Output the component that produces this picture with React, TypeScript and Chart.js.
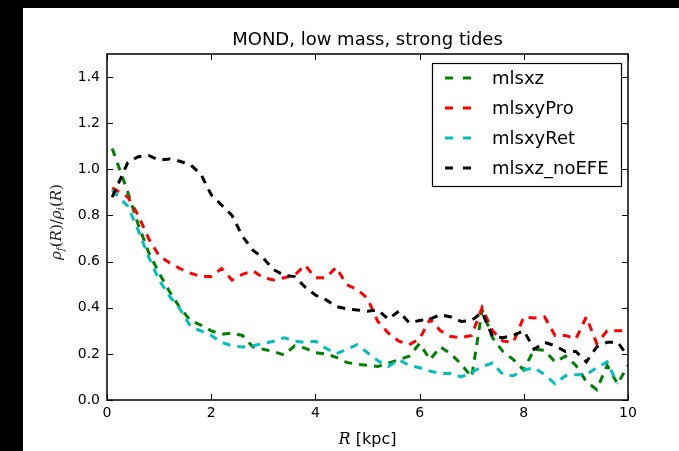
import React, { useEffect, useRef } from "react";
import { Chart, registerables } from "chart.js";

Chart.register(...registerables);

const TITLE = "MOND, low mass, strong tides";
const SERIES_NAMES = ["mlsxz", "mlsxyPro", "mlsxyRet", "mlsxz_noEFE"];
const SERIES_COLORS = ["#008000", "#ff0000", "#00bfbf", "#000000"];
const X_TICKS = [0, 2, 4, 6, 8, 10];
const Y_TICKS = [0, 0.2, 0.4, 0.6, 0.8, 1.0, 1.2, 1.4];

const R = [
  0.1, 0.4, 0.6, 0.8, 1.0, 1.2, 1.4, 1.6, 1.8, 2.0,
  2.2, 2.4, 2.6, 2.8, 3.0, 3.2, 3.4, 3.6, 3.8, 4.0,
  4.2, 4.4, 4.6, 4.8, 5.0, 5.2, 5.4, 5.6, 5.8, 6.0,
  6.2, 6.4, 6.6, 6.8, 7.0, 7.2, 7.4, 7.6, 7.8, 8.0,
  8.2, 8.4, 8.6, 8.8, 9.0, 9.2, 9.4, 9.6, 9.8, 10.0,
];

const mlsxz = [
  1.09, 0.9, 0.76, 0.64, 0.55, 0.47, 0.4, 0.345, 0.325, 0.3,
  0.285, 0.29, 0.28, 0.23, 0.22, 0.21, 0.195, 0.235, 0.225, 0.205,
  0.2, 0.185, 0.163, 0.155, 0.15, 0.145, 0.16, 0.175, 0.19, 0.245,
  0.175, 0.23, 0.2, 0.155, 0.1, 0.39, 0.27, 0.21, 0.175, 0.13,
  0.22, 0.215, 0.165, 0.19, 0.15, 0.08, 0.045, 0.15, 0.07, 0.15,
];

const mlsxyPro = [
  0.92, 0.88, 0.8, 0.7, 0.625, 0.595, 0.57, 0.55, 0.535, 0.535,
  0.57, 0.52, 0.545, 0.56, 0.53, 0.52, 0.53, 0.54, 0.585, 0.53,
  0.53, 0.575, 0.5, 0.48, 0.44, 0.34, 0.29, 0.255, 0.24, 0.265,
  0.35, 0.3, 0.275, 0.27, 0.28, 0.4, 0.3, 0.255, 0.25, 0.36,
  0.355, 0.36, 0.28, 0.28, 0.265, 0.36, 0.245, 0.3, 0.3, 0.3,
];

const mlsxyRet = [
  0.91, 0.84, 0.735, 0.62, 0.52, 0.45, 0.395, 0.32, 0.3, 0.28,
  0.25, 0.235, 0.23, 0.235, 0.245, 0.255, 0.27, 0.255, 0.25, 0.255,
  0.225, 0.2, 0.22, 0.24, 0.205, 0.17, 0.145, 0.175, 0.15, 0.14,
  0.125, 0.115, 0.115, 0.1, 0.12, 0.145, 0.16, 0.11, 0.105, 0.13,
  0.14, 0.11, 0.07, 0.105, 0.11, 0.11, 0.14, 0.165, 0.07, null,
];

const mlsxzNoEFE = [
  0.88, 1.03, 1.055, 1.06, 1.04, 1.045, 1.035, 1.02, 0.98, 0.89,
  0.845, 0.8, 0.71, 0.65, 0.615, 0.565, 0.54, 0.535, 0.49, 0.455,
  0.435, 0.405, 0.395, 0.39, 0.385, 0.39, 0.35, 0.385, 0.335, 0.345,
  0.35, 0.37, 0.36, 0.34, 0.345, 0.38, 0.275, 0.27, 0.28, 0.3,
  0.22, 0.25, 0.235, 0.21, 0.21, 0.165, 0.23, 0.25, 0.25, 0.19,
];

const SERIES = [mlsxz, mlsxyPro, mlsxyRet, mlsxzNoEFE];

const DASH = [8, 7];

const decor = {
  id: "decor",
  afterDatasetsDraw(chart: any) {
    const { ctx, chartArea: a, scales } = chart;
    ctx.save();
    // frame
    ctx.strokeStyle = "#000";
    ctx.lineWidth = 1.5;
    ctx.setLineDash([]);
    ctx.strokeRect(a.left, a.top, a.right - a.left, a.bottom - a.top);
    // inward ticks on all four sides
    ctx.lineWidth = 1;
    const seg = (x1: number, y1: number, x2: number, y2: number) => {
      ctx.beginPath();
      ctx.moveTo(x1, y1);
      ctx.lineTo(x2, y2);
      ctx.stroke();
    };
    for (const v of X_TICKS) {
      const x = Math.round(scales.x.getPixelForValue(v)) + 0.5;
      seg(x, a.bottom, x, a.bottom - 6);
      seg(x, a.top, x, a.top + 6);
    }
    for (const v of Y_TICKS) {
      const y = Math.round(scales.y.getPixelForValue(v)) + 0.5;
      seg(a.left, y, a.left + 6, y);
      seg(a.right, y, a.right - 6, y);
    }

    // title
    ctx.fillStyle = "#000";
    ctx.font = "18px 'DejaVu Sans'";
    ctx.textAlign = "center";
    ctx.textBaseline = "alphabetic";
    ctx.fillText(TITLE, (a.left + a.right) / 2, a.top - 9);

    // legend
    const bx = a.right - 196;
    const by = a.top + 9;
    const bw = 189;
    const bh = 123;
    ctx.fillStyle = "#fff";
    ctx.fillRect(bx, by, bw, bh);
    ctx.strokeStyle = "#000";
    ctx.lineWidth = 1.2;
    ctx.strokeRect(bx + 0.5, by + 0.5, bw, bh);
    ctx.font = "18px 'DejaVu Sans'";
    ctx.textAlign = "left";
    ctx.textBaseline = "middle";
    SERIES_NAMES.forEach((name, i) => {
      const cy = by + 15 + i * 30;
      ctx.strokeStyle = SERIES_COLORS[i];
      ctx.lineWidth = 3;
      ctx.setLineDash([]);
      seg(bx + 13, cy, bx + 21, cy);
      seg(bx + 31, cy, bx + 39, cy);
      ctx.fillStyle = "#000";
      ctx.fillText(name, bx + 60, cy + 1);
    });

    // x label: R [kpc]
    const fR = "italic 16px 'DejaVu Serif'";
    const fK = "16px 'DejaVu Sans'";
    ctx.font = fR;
    const wR = ctx.measureText("R").width;
    ctx.font = fK;
    const wK = ctx.measureText(" [kpc]").width;
    const xl = (a.left + a.right) / 2 - (wR + wK) / 2;
    const yl = a.bottom + 44;
    ctx.textAlign = "left";
    ctx.textBaseline = "alphabetic";
    ctx.fillStyle = "#000";
    ctx.font = fR;
    ctx.fillText("R", xl, yl);
    ctx.font = fK;
    ctx.fillText(" [kpc]", xl + wR, yl);

    // y label: rho_f(R)/rho_i(R)
    const big = 15;
    const pieces: [string, string, number][] = [
      ["\u03C1", `italic ${big}px 'DejaVu Serif'`, 0],
      ["f", `italic ${big * 0.7}px 'DejaVu Serif'`, 3],
      ["(", `${big}px 'DejaVu Serif'`, 0],
      ["R", `italic ${big}px 'DejaVu Serif'`, 0],
      [")", `${big}px 'DejaVu Serif'`, 0],
      ["/", `${big}px 'DejaVu Serif'`, 0],
      ["\u03C1", `italic ${big}px 'DejaVu Serif'`, 0],
      ["i", `italic ${big * 0.7}px 'DejaVu Serif'`, 3],
      ["(", `${big}px 'DejaVu Serif'`, 0],
      ["R", `italic ${big}px 'DejaVu Serif'`, 0],
      [")", `${big}px 'DejaVu Serif'`, 0],
    ];
    let total = 0;
    const widths = pieces.map(([t, f]) => {
      ctx.font = f;
      const w = ctx.measureText(t).width;
      total += w;
      return w;
    });
    ctx.translate(a.left - 51, (a.top + a.bottom) / 2 - 5);
    ctx.rotate(-Math.PI / 2);
    let px = -total / 2;
    ctx.fillStyle = "#222";
    ctx.textBaseline = "alphabetic";
    pieces.forEach(([t, f, dy], i) => {
      ctx.font = f;
      ctx.fillText(t, px, 5 + dy);
      px += widths[i];
    });
    ctx.restore();
  },
};

export default function App() {
  const ref = useRef<HTMLCanvasElement | null>(null);

  useEffect(() => {
    const canvas = ref.current;
    if (!canvas) return;
    const datasets = SERIES.map((vals, i) => ({
      label: SERIES_NAMES[i],
      data: R.map((r, j) => ({ x: r, y: vals[j] })),
      borderColor: SERIES_COLORS[i],
      backgroundColor: SERIES_COLORS[i],
      borderWidth: 3,
      borderDash: DASH,
      borderCapStyle: "butt" as const,
      pointRadius: 0,
      tension: 0,
      fill: false,
      spanGaps: false,
      order: 3 - i,
    }));
    const chart = new Chart(canvas, {
      type: "line",
      data: { datasets },
      options: {
        animation: false,
        responsive: false,
        devicePixelRatio: 1,
        layout: { padding: { left: 0, right: 51, top: 46, bottom: 0 } },
        plugins: {
          legend: { display: false },
          title: { display: false },
          tooltip: { enabled: false },
        },
        scales: {
          x: {
            type: "linear",
            min: 0,
            max: 10,
            grid: { display: false, drawTicks: false },
            border: { display: false },
            ticks: {
              stepSize: 2,
              includeBounds: false,
              padding: 5,
              color: "#000",
              font: { family: "'DejaVu Sans'", size: 14 },
              maxRotation: 0,
              callback: (v: any) => String(v),
            },
            afterFit: (s: any) => {
              s.height = 51;
            },
          },
          y: {
            type: "linear",
            min: 0,
            max: 1.5,
            grid: { display: false, drawTicks: false },
            border: { display: false },
            ticks: {
              stepSize: 0.2,
              includeBounds: false,
              padding: 7,
              color: "#000",
              font: { family: "'DejaVu Sans'", size: 14 },
              callback: (v: any) => Number(v).toFixed(1),
            },
            afterFit: (s: any) => {
              s.width = 84;
            },
          },
        },
      },
      plugins: [decor],
    });
    return () => chart.destroy();
  }, []);

  return (
    <div
      style={{
        position: "fixed",
        left: 0,
        top: 0,
        width: 679,
        height: 451,
        background: "#000",
      }}
    >
      <div
        style={{
          position: "absolute",
          left: 23,
          top: 8,
          width: 656,
          height: 443,
          background: "#fff",
        }}
      >
        <canvas ref={ref} width={656} height={443} style={{ display: "block" }} />
      </div>
    </div>
  );
}
